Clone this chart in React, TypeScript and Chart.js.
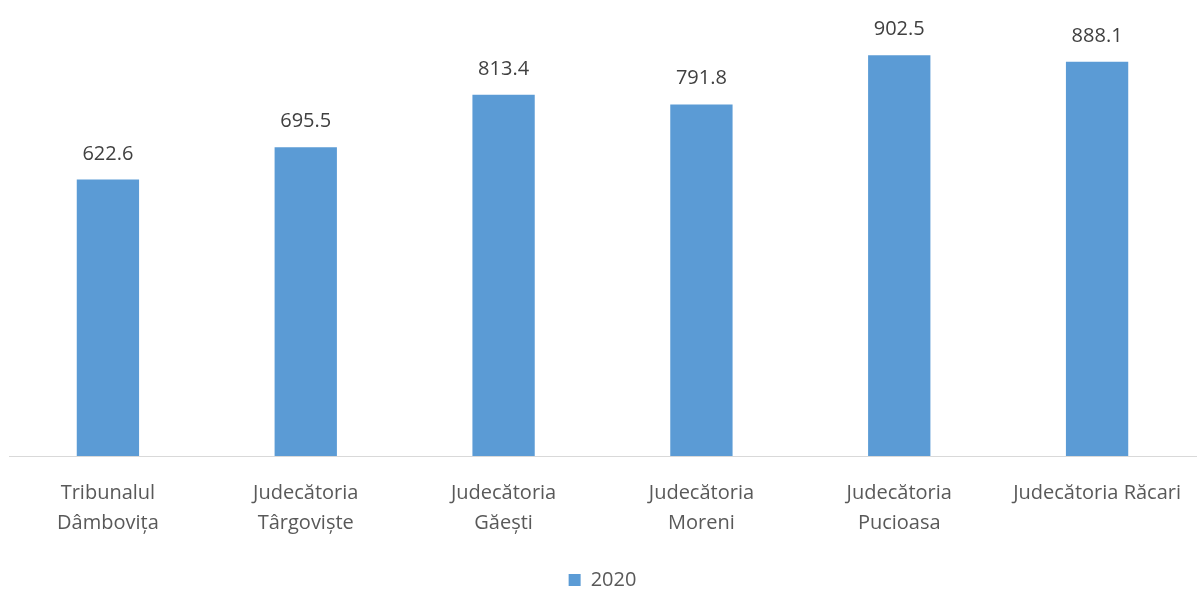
import React, { useEffect, useRef } from "react";
import { Chart, registerables } from "chart.js";

Chart.register(...registerables);

const categories: string[][] = [
  ["Tribunalul", "Dâmbovița"],
  ["Judecătoria", "Târgoviște"],
  ["Judecătoria", "Găești"],
  ["Judecătoria", "Moreni"],
  ["Judecătoria", "Pucioasa"],
  ["Judecătoria Răcari"],
];
const seriesLabel = "2020";
const values2020: number[] = [622.6, 695.5, 813.4, 791.8, 902.5, 888.1];

const FONT = "'Open Sans', 'Noto Sans', sans-serif";

const dataLabelPlugin = {
  id: "dataLabels",
  afterDatasetsDraw(chart: any) {
    const ctx = chart.ctx;
    ctx.save();
    ctx.font = `20px ${FONT}`;
    ctx.fillStyle = "#404040";
    ctx.textAlign = "center";
    ctx.textBaseline = "alphabetic";
    chart.data.datasets.forEach((ds: any, di: number) => {
      const meta = chart.getDatasetMeta(di);
      meta.data.forEach((bar: any, i: number) => {
        const v = ds.data[i] as number;
        ctx.fillText(v.toFixed(1), bar.x, bar.y - 20);
      });
    });
    ctx.restore();
  },
};

export default function App() {
  const ref = useRef<HTMLCanvasElement | null>(null);
  useEffect(() => {
    if (!ref.current) return;
    const chart = new Chart(ref.current, {
      type: "bar",
      data: {
        labels: categories,
        datasets: [
          {
            label: seriesLabel,
            data: values2020,
            backgroundColor: "#5B9BD5",
            borderWidth: 0,
            categoryPercentage: 1,
            barPercentage: 0.315,
          },
        ],
      },
      options: {
        animation: false,
        responsive: false,
        maintainAspectRatio: false,
        layout: { padding: { left: 9, right: 4, top: 12, bottom: -10 } },
        plugins: {
          tooltip: { enabled: false },
          legend: {
            position: "bottom",
            labels: {
              boxWidth: 12,
              boxHeight: 12,
              color: "#595959",
              font: { family: FONT, size: 20 },
              padding: 0,
            },
          },
        },
        scales: {
          x: {
            grid: { display: false },
            border: { display: true, color: "#d9d9d9", width: 1 },
            ticks: {
              color: "#595959",
              font: { family: FONT, size: 20, lineHeight: 1.5 },
              maxRotation: 0,
              autoSkip: false,
              padding: 14,
            },
            afterFit(scale: any) {
              scale.height = 114;
            },
          },
          y: {
            display: false,
            min: 0,
            max: 1000,
          },
        },
      },
      plugins: [dataLabelPlugin],
    });
    return () => chart.destroy();
  }, []);
  return (
    <div style={{ position: "absolute", left: 0, top: 0, width: 1200, height: 590, background: "#fff" }}>
      <canvas ref={ref} width={1200} height={590} style={{ width: 1200, height: 590 }} />
    </div>
  );
}
